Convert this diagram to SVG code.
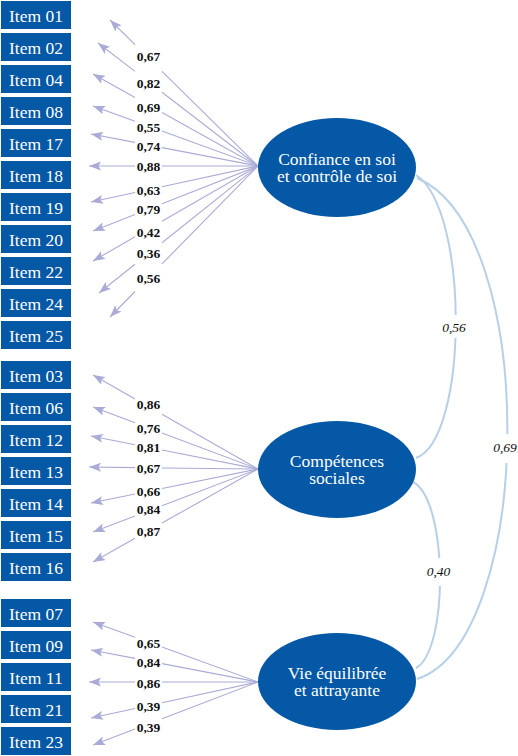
<svg xmlns="http://www.w3.org/2000/svg" width="518" height="756" viewBox="0 0 518 756" font-family="'Liberation Serif', 'Times New Roman', 'DejaVu Serif', serif">
<style>
.box{fill:#0558a5}
.it{font-size:17.5px;fill:#fff;text-anchor:middle}
.lat{fill:#0558a5}
.lt{font-size:17.5px;fill:#fff;text-anchor:middle}
.ld{fill:none;stroke:#aaabd6;stroke-width:1.1}
.cv{fill:none;stroke:#b8d0e7;stroke-width:2}
.lb{font-size:13.5px;font-weight:bold;fill:#111;text-anchor:middle}
.cl{font-size:13.5px;font-style:italic;fill:#111;text-anchor:middle}
</style>
<defs>
<marker id="ah" markerUnits="userSpaceOnUse" markerWidth="13" markerHeight="9" refX="12" refY="4.5" orient="auto"><path d="M0,0 L12,4.5 L0,9 L2.5,4.5 z" fill="#aaabd6"/></marker>
</defs>
<rect width="518" height="756" fill="#fff"/>
<g id="connectors">
<g id="loadings">
<path class="ld" marker-end="url(#ah)" d="M258,166 L162,71.3 M135,44.7 L110,20"/>
<path class="ld" marker-end="url(#ah)" d="M258,166 L162,92.2 M135,71.4 L98,43"/>
<path class="ld" marker-end="url(#ah)" d="M258,166 L162,112.5 M135,97.4 L93,74"/>
<path class="ld" marker-end="url(#ah)" d="M258,166 L162,131.1 M135,121.3 L93,106"/>
<path class="ld" marker-end="url(#ah)" d="M258,166 L162,147.6 M135,142.4 L91,134"/>
<path class="ld" marker-end="url(#ah)" d="M258,166 L162,166 M135,166 L89,166"/>
<path class="ld" marker-end="url(#ah)" d="M258,166 L162,186.7 M135,192.5 L91,202"/>
<path class="ld" marker-end="url(#ah)" d="M258,166 L162,203.8 M135,214.5 L93,231"/>
<path class="ld" marker-end="url(#ah)" d="M258,166 L162,221.3 M135,236.8 L93,261"/>
<path class="ld" marker-end="url(#ah)" d="M258,166 L162,242.7 M135,264.2 L99,293"/>
<path class="ld" marker-end="url(#ah)" d="M258,166 L162,263.9 M135,291.5 L110,317"/>

<path class="ld" marker-end="url(#ah)" d="M258,469 L162,414.3 M135,398.9 L93,375"/>
<path class="ld" marker-end="url(#ah)" d="M258,469 L162,432.9 M135,422.8 L93,407"/>
<path class="ld" marker-end="url(#ah)" d="M258,469 L162,450 M135,444.7 L91,436"/>
<path class="ld" marker-end="url(#ah)" d="M258,469 L162,468 M135,467.6 L89,467"/>
<path class="ld" marker-end="url(#ah)" d="M258,469 L162,488.5 M135,494 L91,503"/>
<path class="ld" marker-end="url(#ah)" d="M258,469 L162,505.7 M135,516 L93,532"/>
<path class="ld" marker-end="url(#ah)" d="M258,469 L162,523.1 M135,538.3 L93,562"/>

<path class="ld" marker-end="url(#ah)" d="M258,682 L162,647.1 M135,637.3 L93,622"/>
<path class="ld" marker-end="url(#ah)" d="M258,682 L162,663.6 M135,658.4 L91,650"/>
<path class="ld" marker-end="url(#ah)" d="M258,682 L162,682 M135,682 L89,682"/>
<path class="ld" marker-end="url(#ah)" d="M258,682 L162,702.7 M135,708.5 L91,718"/>
<path class="ld" marker-end="url(#ah)" d="M258,682 L162,718.7 M135,729 L93,745"/>
</g>
<g id="loading-labels">
<text class="lb" x="148.5" y="61">0,67</text>
<text class="lb" x="148.5" y="88">0,82</text>
<text class="lb" x="148.5" y="112">0,69</text>
<text class="lb" x="148.5" y="131.5">0,55</text>
<text class="lb" x="148.5" y="151">0,74</text>
<text class="lb" x="148.5" y="171">0,88</text>
<text class="lb" x="148.5" y="195">0,63</text>
<text class="lb" x="148.5" y="214">0,79</text>
<text class="lb" x="148.5" y="236.5">0,42</text>
<text class="lb" x="148.5" y="257.5">0,36</text>
<text class="lb" x="148.5" y="282.5">0,56</text>
<text class="lb" x="148.5" y="409">0,86</text>
<text class="lb" x="148.5" y="433">0,76</text>
<text class="lb" x="148.5" y="452">0,81</text>
<text class="lb" x="148.5" y="473">0,67</text>
<text class="lb" x="148.5" y="496">0,66</text>
<text class="lb" x="148.5" y="514">0,84</text>
<text class="lb" x="148.5" y="536">0,87</text>
<text class="lb" x="148.5" y="648">0,65</text>
<text class="lb" x="148.5" y="667">0,84</text>
<text class="lb" x="148.5" y="688">0,86</text>
<text class="lb" x="148.5" y="711">0,39</text>
<text class="lb" x="148.5" y="732">0,39</text>
</g>
<g id="correlations">
<path class="cv" d="M416,175 C470,210 468,440 416,458"/>
<path class="cv" d="M417,178 C540,230 535,640 417,679"/>
<path class="cv" d="M413,482 C448,500 449,650 416,668"/>
<rect x="441" y="315" width="27" height="23" fill="#fff"/>
<rect x="491" y="434" width="27" height="29" fill="#fff"/>
<rect x="425" y="558" width="27" height="28" fill="#fff"/>
<text class="cl" x="454" y="332">0,56</text>
<text class="cl" x="505" y="452">0,69</text>
<text class="cl" x="438.5" y="576">0,40</text>
</g>
</g>
<g id="items">
<g id="item01"><rect class="box" x="1" y="1" width="70" height="28"/><text class="it" x="36" y="21.5">Item 01</text></g>
<g id="item02"><rect class="box" x="1" y="33" width="70" height="28"/><text class="it" x="36" y="53.5">Item 02</text></g>
<g id="item04"><rect class="box" x="1" y="65" width="70" height="28"/><text class="it" x="36" y="85.5">Item 04</text></g>
<g id="item08"><rect class="box" x="1" y="97" width="70" height="28"/><text class="it" x="36" y="117.5">Item 08</text></g>
<g id="item17"><rect class="box" x="1" y="129" width="70" height="28"/><text class="it" x="36" y="149.5">Item 17</text></g>
<g id="item18"><rect class="box" x="1" y="161" width="70" height="28"/><text class="it" x="36" y="181.5">Item 18</text></g>
<g id="item19"><rect class="box" x="1" y="193" width="70" height="28"/><text class="it" x="36" y="213.5">Item 19</text></g>
<g id="item20"><rect class="box" x="1" y="225" width="70" height="28"/><text class="it" x="36" y="245.5">Item 20</text></g>
<g id="item22"><rect class="box" x="1" y="257" width="70" height="28"/><text class="it" x="36" y="277.5">Item 22</text></g>
<g id="item24"><rect class="box" x="1" y="289" width="70" height="28"/><text class="it" x="36" y="309.5">Item 24</text></g>
<g id="item25"><rect class="box" x="1" y="321" width="70" height="28"/><text class="it" x="36" y="341.5">Item 25</text></g>
<g id="item03"><rect class="box" x="1" y="361" width="70" height="28"/><text class="it" x="36" y="381.5">Item 03</text></g>
<g id="item06"><rect class="box" x="1" y="393" width="70" height="28"/><text class="it" x="36" y="413.5">Item 06</text></g>
<g id="item12"><rect class="box" x="1" y="425" width="70" height="28"/><text class="it" x="36" y="445.5">Item 12</text></g>
<g id="item13"><rect class="box" x="1" y="457" width="70" height="28"/><text class="it" x="36" y="477.5">Item 13</text></g>
<g id="item14"><rect class="box" x="1" y="489" width="70" height="28"/><text class="it" x="36" y="509.5">Item 14</text></g>
<g id="item15"><rect class="box" x="1" y="521" width="70" height="28"/><text class="it" x="36" y="541.5">Item 15</text></g>
<g id="item16"><rect class="box" x="1" y="553" width="70" height="28"/><text class="it" x="36" y="573.5">Item 16</text></g>
<g id="item07"><rect class="box" x="1" y="599" width="70" height="28"/><text class="it" x="36" y="619.5">Item 07</text></g>
<g id="item09"><rect class="box" x="1" y="631" width="70" height="28"/><text class="it" x="36" y="651.5">Item 09</text></g>
<g id="item11"><rect class="box" x="1" y="663" width="70" height="28"/><text class="it" x="36" y="683.5">Item 11</text></g>
<g id="item21"><rect class="box" x="1" y="695" width="70" height="28"/><text class="it" x="36" y="715.5">Item 21</text></g>
<g id="item23"><rect class="box" x="1" y="727" width="70" height="28"/><text class="it" x="36" y="747.5">Item 23</text></g>
</g>
<g id="factor1"><ellipse class="lat" cx="337" cy="167.5" rx="79" ry="49.5"/><text class="lt" x="337" y="164.5">Confiance en soi</text><text class="lt" x="337" y="182">et contrôle de soi</text></g>
<g id="factor2"><ellipse class="lat" cx="337" cy="469.5" rx="79" ry="48.5"/><text class="lt" x="337" y="466.5">Compétences</text><text class="lt" x="337" y="484">sociales</text></g>
<g id="factor3"><ellipse class="lat" cx="337" cy="681.5" rx="79" ry="48.5"/><text class="lt" x="337" y="678.5">Vie équilibrée</text><text class="lt" x="337" y="696">et attrayante</text></g>
</svg>
